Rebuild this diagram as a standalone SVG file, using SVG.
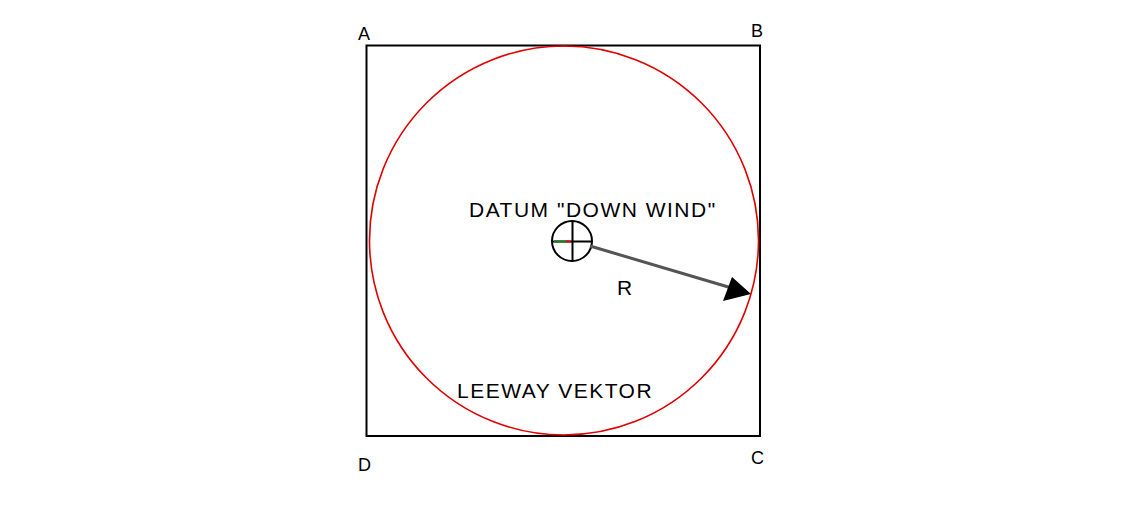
<svg xmlns="http://www.w3.org/2000/svg" width="1133" height="510" viewBox="0 0 1133 510">
<style>
.t{font-family:"Liberation Sans",Arial,sans-serif;font-size:21px;letter-spacing:1.5px;fill:#000}
.lbl{font-family:"Liberation Sans",Arial,sans-serif;font-size:18px;fill:#000}
</style>
<rect width="1133" height="510" fill="#fff"/>
<g id="square">
<rect x="366.5" y="45.5" width="393.5" height="390.5" fill="none" stroke="#000" stroke-width="2"/>
</g>
<g id="circle">
<circle cx="564" cy="240.5" r="194.5" fill="none" stroke="#e00000" stroke-width="1.6"/>
</g>
<g id="datum">
<circle cx="572" cy="241" r="20" fill="none" stroke="#000" stroke-width="2"/>
<line x1="572.5" y1="221" x2="572.5" y2="262" stroke="#000" stroke-width="2"/>
<line x1="552" y1="241.5" x2="592" y2="241.5" stroke="#000" stroke-width="2"/>
<line x1="554" y1="241.5" x2="566" y2="241.5" stroke="#1a7a1a" stroke-width="2"/>
<line x1="566" y1="241.5" x2="571" y2="241.5" stroke="#e00000" stroke-width="2"/>
</g>
<g id="connectors">
<line x1="590" y1="246" x2="730" y2="287.5" stroke="#555" stroke-width="3"/>
<path d="M751,294 L723,301 L732,277 Z" fill="#000"/>
</g>
<g id="labels">
<text class="lbl" x="358" y="40">A</text>
<text class="lbl" x="751" y="37">B</text>
<text class="lbl" x="358" y="471">D</text>
<text class="lbl" x="751" y="464">C</text>
<text class="t" x="469" y="217">DATUM "DOWN WIND"</text>
<text class="t" x="617" y="295">R</text>
<text class="t" x="457" y="398">LEEWAY VEKTOR</text>
</g>
</svg>
